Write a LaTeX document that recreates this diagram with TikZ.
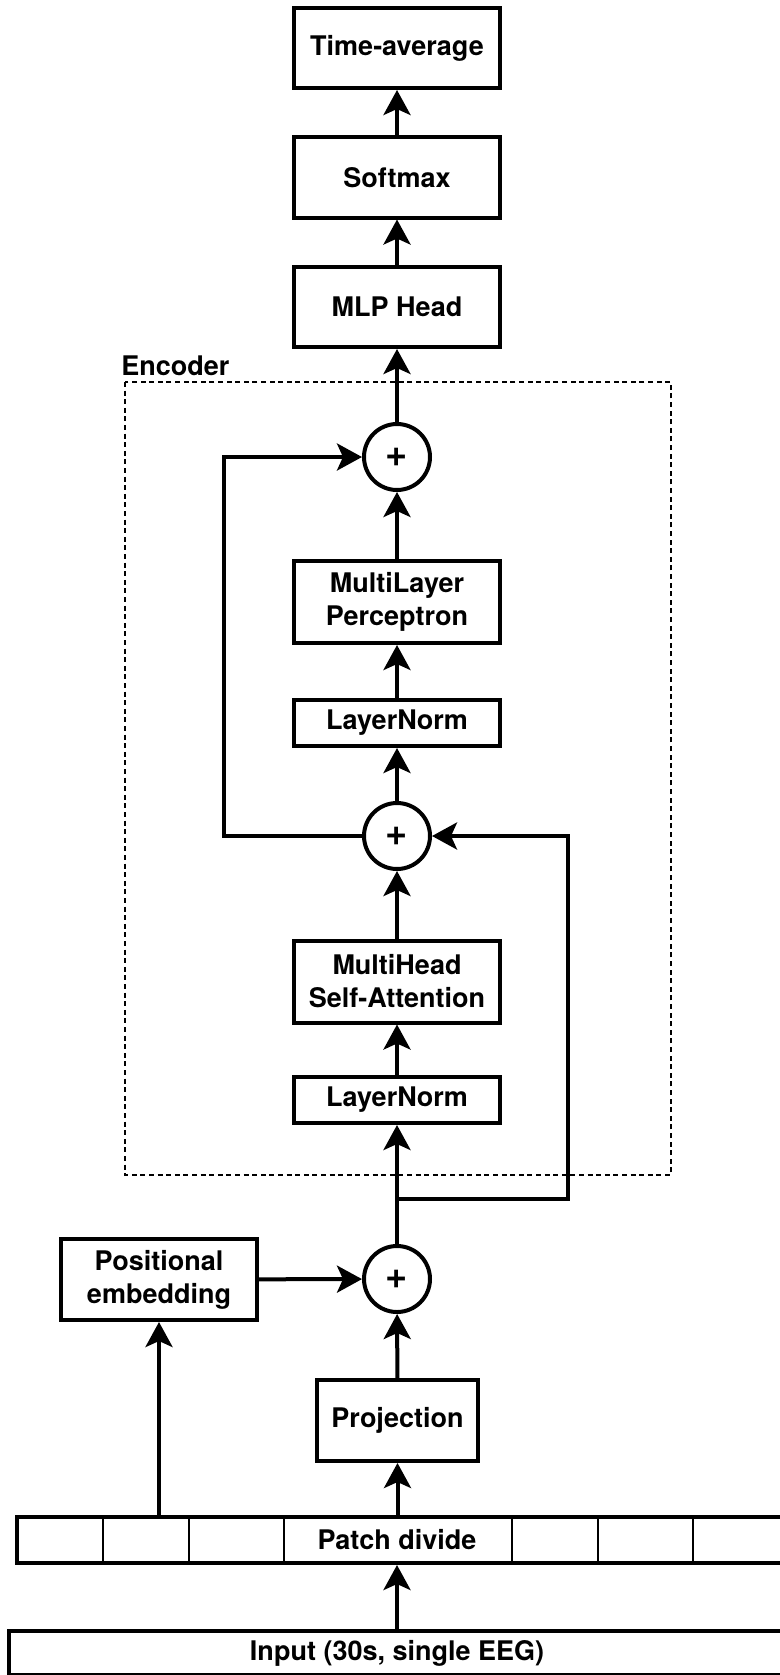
\documentclass[tikz,border=0pt]{standalone}
\usepackage{fontspec}
\setmainfont{TeX Gyre Heros}
\usetikzlibrary{arrows.meta}

\tikzset{
    block/.style={draw, line width=2pt, minimum width=103pt, inner sep=0pt, align=center},
    addop/.style={draw, circle, line width=2pt, minimum size=33pt, inner sep=0pt, font=\fontsize{19}{19}\selectfont\bfseries},
    conn/.style={line width=2pt, -{Stealth[length=12.5pt, width=13.5pt, inset=3pt]}},
}

\begin{document}
\begin{tikzpicture}[x=0.5pt, y=-0.5pt, font=\fontsize{13.5}{16.5}\selectfont\bfseries]
                \useasboundingbox (0,0) rectangle (780,1675);
                % encoder frame
                \draw [dash pattern=on 2.5pt off 1.8pt, line width=0.75pt] (125,382) rectangle (671,1175);
                \node [anchor=south west, inner sep=0pt] (enc) at (121,376) {Encoder};
                % head
                \node [block, minimum height=40pt] (avg) at (397,48) {Time-average};
                \node [block, minimum height=40pt] (soft) at (397,177.5) {Softmax};
                \node [block, minimum height=40pt] (mlph) at (397,307) {MLP Head};
                % encoder
                \node [addop] (add1) at (397,457) {+};
                \node [block, minimum height=41pt] (mlp) at (397,602) {MultiLayer\\Perceptron};
                \node [block, minimum height=23pt] (norm2) at (397,723) {LayerNorm};
                \node [addop] (add2) at (397,836) {+};
                \node [block, minimum height=41pt] (msa) at (397,981.5) {MultiHead\\Self-Attention};
                \node [block, minimum height=23pt] (norm1) at (397,1100) {LayerNorm};
                % embedding
                \node [addop] (add0) at (397,1279) {+};
                \node [block, minimum width=98pt, minimum height=40.5pt] (pos) at (159,1279.5) {Positional\\embedding};
                \node [block, minimum width=80.5pt, minimum height=40.5pt] (proj) at (397.5,1420.5) {Projection};
                \node [draw, line width=2pt, minimum width=391.5pt, minimum height=23pt, inner sep=0pt] (patch) at (408.5,1540) {};
                \node (patchtxt) at (397,1540) {Patch divide};
                \foreach \x in {103,189,284,512,598,693} {
                    \draw [line width=0.75pt] (\x,1517) -- (\x,1563);
                }
                \node [draw, line width=2pt, minimum width=397pt, minimum height=22pt, inner sep=0pt] (inp) at (406,1653) {};
                \node (inptxt) at (397,1653) {Input (30s, single EEG)};
                \coordinate (split) at (397,1199);
                % arrows
                \draw [conn] (inp.north -| patchtxt) -- (patch.south -| patchtxt);
                \draw [conn] (patch.north -| proj) -- (proj);
                \draw [conn] (patch.north -| pos) -- (pos);
                \draw [conn] (proj) -- (add0);
                \draw [conn] (pos) -- (add0);
                \draw [conn] (add0) -- (norm1);
                \draw [conn] (split) -- (568,1199) |- (add2);
                \draw [conn] (norm1) -- (msa);
                \draw [conn] (msa) -- (add2);
                \draw [conn] (add2) -- (norm2);
                \draw [conn] (add2) -- (224,836) |- (add1);
                \draw [conn] (norm2) -- (mlp);
                \draw [conn] (mlp) -- (add1);
                \draw [conn] (add1) -- (mlph);
                \draw [conn] (mlph) -- (soft);
                \draw [conn] (soft) -- (avg);
            \end{tikzpicture}
\end{document}
